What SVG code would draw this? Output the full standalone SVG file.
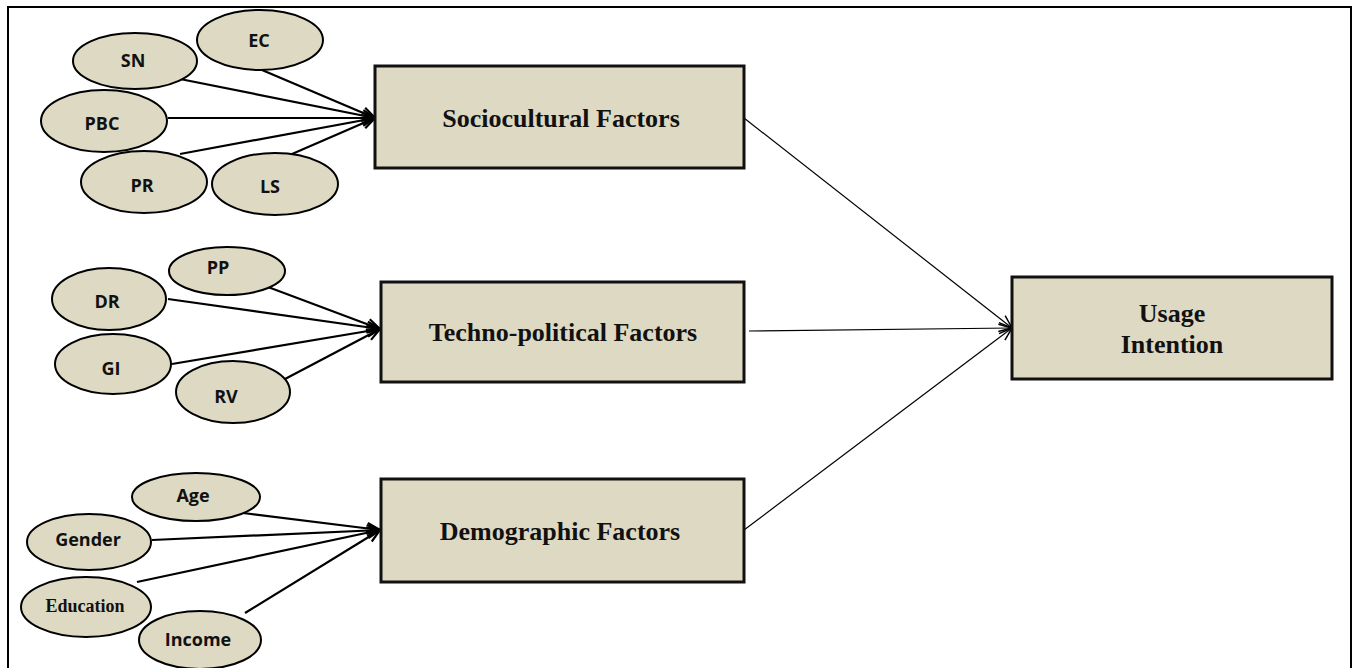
<svg xmlns="http://www.w3.org/2000/svg" width="1353" height="668" viewBox="0 0 1353 668">
<style>
.ell{fill:#DDD9C3;stroke:#000;stroke-width:2}
.box{fill:#DDD9C3;stroke:#111;stroke-width:3}
.lbl{font-family:"Open Sans","Liberation Sans",sans-serif;font-weight:700;font-size:18px;fill:#111;text-anchor:middle}
.ser{font-family:"Liberation Serif","Times New Roman",serif;font-weight:700;fill:#111;text-anchor:middle}
.thick{stroke:#000;stroke-width:2.2;fill:none;marker-end:url(#arrT)}
.thin{stroke:#000;stroke-width:1.2;fill:none;marker-end:url(#arrN)}
</style>
<defs>
<marker id="arrT" markerUnits="userSpaceOnUse" markerWidth="16" markerHeight="14" refX="14" refY="7" orient="auto">
<path d="M1,1.5 L14,7 L1,12.5" fill="none" stroke="#000" stroke-width="2.2"/>
</marker>
<marker id="arrN" markerUnits="userSpaceOnUse" markerWidth="16" markerHeight="14" refX="14" refY="7" orient="auto">
<path d="M1,1.5 L14,7 L1,12.5" fill="none" stroke="#000" stroke-width="1.5"/>
</marker>
</defs>
<rect x="0" y="0" width="1353" height="668" fill="#fff"/>
<rect id="frame" x="8" y="7" width="1343" height="680" fill="none" stroke="#000" stroke-width="2"/>

<g id="connectors">
<line class="thick" x1="180" y1="79" x2="375" y2="118"/>
<line class="thick" x1="262" y1="70" x2="375" y2="118"/>
<line class="thick" x1="168" y1="118" x2="375" y2="118"/>
<line class="thick" x1="180" y1="154" x2="375" y2="118"/>
<line class="thick" x1="292" y1="154" x2="375" y2="118"/>
<line class="thick" x1="268" y1="287" x2="380" y2="329"/>
<line class="thick" x1="168" y1="299" x2="380" y2="329"/>
<line class="thick" x1="172" y1="364" x2="380" y2="329"/>
<line class="thick" x1="285" y1="379" x2="380" y2="329"/>
<line class="thick" x1="243" y1="513" x2="380" y2="530"/>
<line class="thick" x1="152" y1="540" x2="380" y2="530"/>
<line class="thick" x1="137" y1="582" x2="380" y2="530"/>
<line class="thick" x1="245" y1="613" x2="380" y2="530"/>
<line class="thin" x1="744" y1="118" x2="1012" y2="328"/>
<line class="thin" x1="749" y1="331" x2="1012" y2="328"/>
<line class="thin" x1="744" y1="530" x2="1012" y2="328"/>
</g>

<g id="n-ec"><ellipse class="ell" cx="260" cy="40" rx="63" ry="30"/><text class="lbl" x="259" y="47">EC</text></g>
<g id="n-sn"><ellipse class="ell" cx="135" cy="61" rx="62" ry="28"/><text class="lbl" x="133" y="67">SN</text></g>
<g id="n-pbc"><ellipse class="ell" cx="104" cy="121" rx="63" ry="31"/><text class="lbl" x="102" y="130">PBC</text></g>
<g id="n-pr"><ellipse class="ell" cx="144" cy="182" rx="63" ry="31"/><text class="lbl" x="142" y="192">PR</text></g>
<g id="n-ls"><ellipse class="ell" cx="275" cy="184" rx="63" ry="31"/><text class="lbl" x="270" y="193">LS</text></g>

<g id="n-pp"><ellipse class="ell" cx="227" cy="271" rx="58" ry="24"/><text class="lbl" x="218" y="274">PP</text></g>
<g id="n-dr"><ellipse class="ell" cx="109" cy="299" rx="57" ry="31"/><text class="lbl" x="107" y="308">DR</text></g>
<g id="n-gi"><ellipse class="ell" cx="113" cy="364" rx="58" ry="30"/><text class="lbl" x="111" y="375">GI</text></g>
<g id="n-rv"><ellipse class="ell" cx="233" cy="392" rx="57" ry="31"/><text class="lbl" x="226" y="403">RV</text></g>

<g id="n-age"><ellipse class="ell" cx="196" cy="497" rx="64" ry="24"/><text class="lbl" x="193" y="502">Age</text></g>
<g id="n-gender"><ellipse class="ell" cx="89" cy="542" rx="62" ry="28"/><text class="lbl" x="88" y="546">Gender</text></g>
<g id="n-education"><ellipse class="ell" cx="86" cy="607" rx="65" ry="30"/><text class="ser" x="85" y="612" font-size="18">Education</text></g>
<g id="n-income"><ellipse class="ell" cx="200" cy="640" rx="61" ry="29"/><text class="lbl" x="198" y="646">Income</text></g>

<g id="n-socio"><rect class="box" x="375" y="66" width="369" height="102"/><text class="ser" x="561" y="127" font-size="26">Sociocultural Factors</text></g>
<g id="n-techno"><rect class="box" x="381" y="282" width="363" height="100"/><text class="ser" x="563" y="341" font-size="26">Techno-political Factors</text></g>
<g id="n-demo"><rect class="box" x="381" y="479" width="363" height="103"/><text class="ser" x="560" y="540" font-size="26">Demographic Factors</text></g>
<g id="n-usage"><rect class="box" x="1012" y="277" width="320" height="102"/><text class="ser" x="1172" y="322" font-size="26">Usage</text><text class="ser" x="1172" y="353" font-size="26">Intention</text></g>
</svg>
